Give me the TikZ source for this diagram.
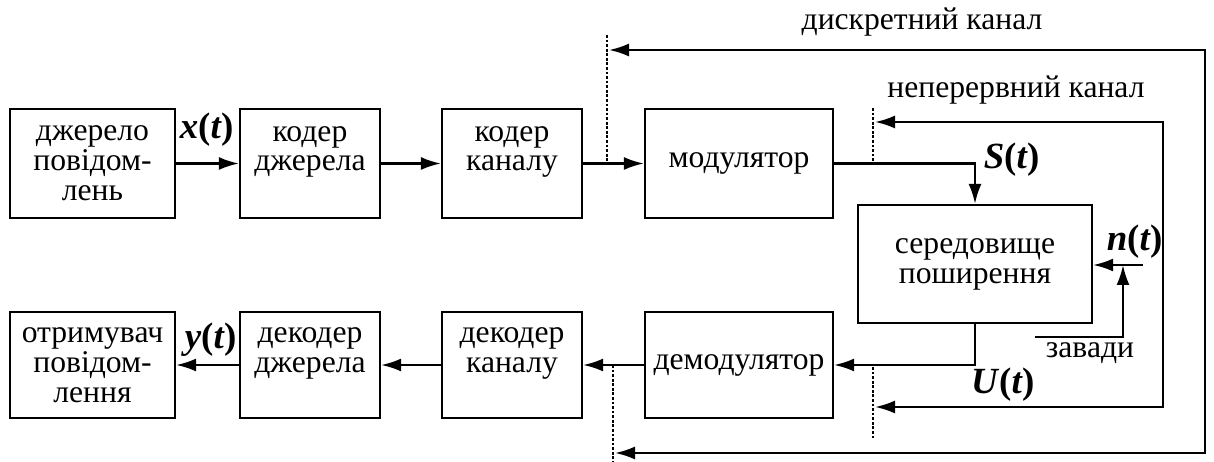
\documentclass[tikz,border=0pt]{standalone}
\usepackage{fontspec}
\setmainfont{Liberation Serif}
\usetikzlibrary{arrows.meta}
\tikzset{
	blk/.style={draw, line width=1.3pt, inner sep=0pt, align=center, minimum height=2.18cm},
	sig/.style={line width=1.3pt, -{Latex[length=4mm,width=2.6mm]}},
	sig2/.style={line width=1.3pt, {Latex[length=4mm,width=2.6mm]}-{Latex[length=4mm,width=2.6mm]}},
	brd/.style={line width=1.6pt, densely dotted},
	lbl/.style={font=\fontsize{21}{22}\selectfont\bfseries},
}

\begin{document}
\begin{tikzpicture}[x=0.02cm, y=-0.02cm, font=\fontsize{18}{17}\selectfont]
	\useasboundingbox (0,0) rectangle (1214,462);
	% upper row
	\node[blk, minimum width=3.3cm] (src) at (92.5,163.5) {джерело\\повідом-\\лень};
	\node[blk, minimum width=2.8cm] (srccod) at (310,163.5) {кодер\\джерела\\~};
	\node[blk, minimum width=2.8cm] (chcod) at (512,163.5) {кодер\\каналу\\~};
	\node[blk, minimum width=3.76cm] (mod) at (739,163.5) {модулятор};
	% medium
	\node[blk, minimum width=4.68cm, minimum height=2.36cm] (med) at (975,264) {середовище\\поширення};
	% lower row
	\node[blk, minimum width=3.76cm, minimum height=2.12cm] (demod) at (739,365) {демодулятор};
	\node[blk, minimum width=2.8cm, minimum height=2.12cm] (chdec) at (512,365) {декодер\\каналу\\~};
	\node[blk, minimum width=2.8cm, minimum height=2.12cm] (srcdec) at (310,365) {декодер\\джерела\\~};
	\node[blk, minimum width=3.3cm, minimum height=2.12cm] (rcv) at (92.5,365) {отримувач\\повідом-\\лення};

	\draw[sig] (src) -- (srccod);
	\draw[sig] (srccod) -- (chcod);
	\draw[sig] (chcod) -- (mod);
	\draw[sig] (mod.east) -| (med.north);
	\draw[sig] (med.south) |- (demod.east);
	\draw[sig] (demod) -- (chdec);
	\draw[sig] (chdec) -- (srcdec);
	\draw[sig] (srcdec) -- (rcv);

	% channel borders
	\coordinate (d1) at (607,35);
	\coordinate (d2) at (607,163.5);
	\coordinate (d3) at (613,365);
	\coordinate (d4) at (613,462);
	\coordinate (c1) at (873,108);
	\coordinate (c2) at (873,163.5);
	\coordinate (c3) at (873,367);
	\coordinate (c4) at (873,440);
	\draw[brd] (d1) -- (d2);
	\draw[brd] (d3) -- (d4);
	\draw[brd] (c1) -- (c2);
	\draw[brd] (c3) -- (c4);

	% loops
	\coordinate (dtop) at (609,50);
	\coordinate (dbot) at (615,453);
	\coordinate (ctop) at (875,122);
	\coordinate (cbot) at (875,407);
	\draw[sig2] (dtop) -- (1205,50) -- (1205,453) -- (dbot);
	\draw[sig2] (ctop) -- (1163,122) -- (1163,407) -- (cbot);

	% noise
	\coordinate (nsrc) at (1143,265);
	\coordinate (njoin) at (1123,265);
	\coordinate (zv) at (1035,337);
	\draw[sig] (nsrc) -- (nsrc -| med.east);
	\draw[sig] (zv) -| (njoin);

	% labels
	\node (ldisc) at (922,22) {дискретний канал};
	\node (lcont) at (1016,90) {неперервний канал};
	\node (lzav) at (1090,353) {завади};
	\node[lbl] (lx) at (207,130) {\textit{x}(\textit{t})};
	\node[lbl] (ly) at (211,340) {\textit{y}(\textit{t})};
	\node[lbl] (ls) at (1012,160) {\textit{S}(\textit{t})};
	\node[lbl] (ln) at (1135,242) {\textit{n}(\textit{t})};
	\node[lbl] (lu) at (1003,385) {\textit{U}(\textit{t})};
\end{tikzpicture}
\end{document}
